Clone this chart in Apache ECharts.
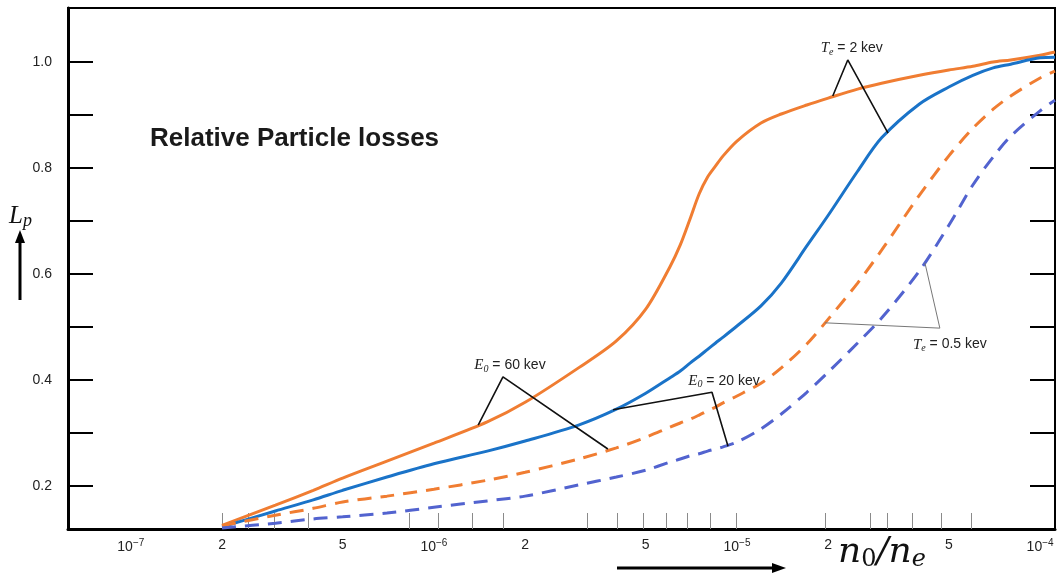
<!DOCTYPE html>
<html>
<head>
<meta charset="utf-8">
<script src="https://cdn.jsdelivr.net/npm/echarts@6/dist/echarts.min.js"></script>
<style>
  html, body { margin: 0; padding: 0; background: #fff; }
  #chart { width: 1057px; height: 582px; }
</style>
</head>
<body>
<div id="chart"></div>
<script>
// n0/ne sample points, shared by the four curves
var ratio = [2e-7, 3e-7, 4e-7, 5e-7, 7e-7, 1e-6, 1.5e-6, 2e-6, 3e-6, 4e-6, 5e-6, 6e-6, 6.5e-6, 7e-6, 7.5e-6, 8e-6,
             8.5e-6, 9e-6, 1e-5, 1.2e-5, 1.4e-5, 1.7e-5, 2e-5, 2.5e-5, 3e-5, 4e-5, 5e-5, 6e-5, 7e-5, 8e-5, 1e-4, 1.12e-4];

// Lp
var e60Te2 = [0.126, 0.164, 0.192, 0.215, 0.247, 0.281, 0.321, 0.358, 0.423, 0.474, 0.534, 0.613, 0.655, 0.704, 0.751, 0.783,
              0.804, 0.823, 0.851, 0.885, 0.902, 0.919, 0.932, 0.949, 0.960, 0.975, 0.985, 0.992, 1.000, 1.004, 1.013, 1.019];
var e20Te2 = [0.123, 0.153, 0.174, 0.192, 0.217, 0.242, 0.266, 0.285, 0.315, 0.345, 0.375, 0.404, 0.417, 0.432, 0.445, 0.458,
              0.470, 0.481, 0.502, 0.540, 0.583, 0.653, 0.711, 0.794, 0.857, 0.921, 0.953, 0.975, 0.989, 0.996, 1.008, 1.009];
var e60Te05 = [0.125, 0.145, 0.158, 0.170, 0.181, 0.194, 0.211, 0.226, 0.251, 0.272, 0.292, 0.311, 0.319, 0.326, 0.334, 0.342,
               0.349, 0.357, 0.370, 0.394, 0.423, 0.468, 0.515, 0.583, 0.645, 0.749, 0.823, 0.875, 0.911, 0.936, 0.970, 0.983];
var e20Te05 = [0.121, 0.130, 0.138, 0.142, 0.149, 0.160, 0.172, 0.181, 0.202, 0.217, 0.230, 0.245, 0.251, 0.257, 0.261, 0.266,
               0.270, 0.274, 0.283, 0.308, 0.336, 0.377, 0.415, 0.470, 0.517, 0.606, 0.692, 0.768, 0.821, 0.860, 0.908, 0.928];

// axis ticks / labels
var xLabelValues = [1e-7, 2e-7, 5e-7, 1e-6, 2e-6, 5e-6, 1e-5, 2e-5, 5e-5, 1e-4];
var xTickValues = [2e-7, 2.44e-7, 2.97e-7, 3.84e-7, 8.28e-7, 1.03e-6, 1.34e-6, 1.7e-6, 3.2e-6, 4.02e-6, 4.9e-6,
                   5.83e-6, 6.84e-6, 8.15e-6, 9.92e-6, 1.95e-5, 2.75e-5, 3.13e-5, 3.78e-5, 4.71e-5, 5.92e-5];
var yLabelValues = [0.2, 0.4, 0.6, 0.8, 1.0];
var yTickValues = [0.2, 0.3, 0.4, 0.5, 0.6, 0.7, 0.8, 0.9, 1.0];

// callouts: curve point, vertex, curve point
var calloutE60 = [[1.40e-6, 0.315], [1.69e-6, 0.406], [3.75e-6, 0.270]];
var calloutE20 = [[3.90e-6, 0.344], [8.27e-6, 0.377], [9.34e-6, 0.275]];
var calloutTe2 = [[2.07e-5, 0.936], [2.32e-5, 1.004], [3.15e-5, 0.866]];
var calloutTe05 = [[1.95e-5, 0.508], [4.67e-5, 0.498], [4.17e-5, 0.621]];

var ORANGE = '#F07D32';
var BLUE = '#1A73C8';
var PURPLE = '#5263CF';
var SERIF = "'Liberation Serif', 'DejaVu Serif', serif";
var MATH = "'DejaVu Serif', serif";
var SANS = "'Liberation Sans', Arial, sans-serif";

function pairs(ys) {
  return ratio.map(function (x, i) { return [x, ys[i]]; });
}

var calloutRich = {
  i: { fontFamily: SERIF, fontStyle: 'italic', fontSize: 15, color: '#222' },
  sb: { fontFamily: SERIF, fontStyle: 'italic', fontSize: 10, color: '#222', padding: [7, 0, 0, 0] },
  t: { fontFamily: SANS, fontSize: 14, color: '#222' }
};

function callout(pts, text, pos, offset, dist, color, width) {
  return {
    type: 'line',
    data: pts.map(function (p, i) {
      if (i !== 1) return p;
      return {
        value: p,
        label: { show: true, position: pos, offset: offset, distance: dist, formatter: text, rich: calloutRich }
      };
    }),
    symbol: 'circle',
    symbolSize: 0,
    showSymbol: true,
    lineStyle: { color: color, width: width },
    itemStyle: { color: color },
    silent: true,
    z: 5,
    animation: false
  };
}

function curve(ys, color, dashed) {
  return {
    type: 'line',
    data: pairs(ys),
    showSymbol: false,
    smooth: 0.3,
    lineStyle: { color: color, width: 3, type: dashed ? [14, 9] : 'solid' },
    itemStyle: { color: color },
    z: 3,
    animation: false
  };
}

function fmtX(v) {
  var e = Math.log10(v);
  var r = Math.round(e);
  if (Math.abs(e - r) < 1e-6) return '10{s|\u2212' + (-r) + '}';
  return String(Math.round(v / Math.pow(10, Math.floor(e + 1e-9))));
}

var chart = echarts.init(document.getElementById('chart'));
chart.setOption({
  backgroundColor: '#fff',
  title: {
    text: 'Relative Particle losses',
    left: 150, top: 126, padding: 0,
    textStyle: { fontFamily: SANS, fontSize: 26, fontWeight: 'bold', color: '#1a1a1a' }
  },
  grid: {
    left: 68, right: 2, top: 8, bottom: 53,
    outerBoundsMode: 'none',
    show: true, borderColor: '#000', borderWidth: 2, backgroundColor: '#fff'
  },
  xAxis: {
    type: 'log', logBase: 10,
    min: 6.206e-8, max: 1.12e-4,
    axisLine: { lineStyle: { color: '#000', width: 3 } },
    axisTick: { inside: true, length: 16, customValues: xTickValues, lineStyle: { color: '#8a8a8a', width: 1 } },
    axisLabel: {
      customValues: xLabelValues, formatter: fmtX, margin: 9,
      color: '#222', fontFamily: SANS, fontSize: 14,
      rich: { s: { fontFamily: SANS, fontSize: 10, color: '#222', padding: [0, 0, 9, 0] } }
    },
    splitLine: { show: false },
    minorTick: { show: false }
  },
  yAxis: [{
    type: 'value', min: 0.119, max: 1.102,
    axisLine: { show: true, lineStyle: { color: '#000', width: 3 } },
    axisTick: { inside: true, length: 25, customValues: yTickValues, lineStyle: { color: '#000', width: 2 } },
    axisLabel: {
      customValues: yLabelValues, margin: 16, color: '#222', fontFamily: SANS, fontSize: 14,
      formatter: function (v) { return v.toFixed(1); }
    },
    splitLine: { show: false }
  }, {
    type: 'value', min: 0.119, max: 1.102, position: 'right',
    axisLine: { show: true, lineStyle: { color: '#000', width: 2 } },
    axisTick: { inside: true, length: 25, customValues: yTickValues, lineStyle: { color: '#000', width: 2 } },
    axisLabel: { show: false },
    splitLine: { show: false }
  }],
  series: [
    curve(e60Te2, ORANGE, false),
    curve(e20Te2, BLUE, false),
    curve(e60Te05, ORANGE, true),
    curve(e20Te05, PURPLE, true),
    callout(calloutE60, '{i|E}{sb|0}{t| = 60 kev}', 'top', [7, 0], 3, '#111', 1.6),
    callout(calloutE20, '{i|E}{sb|0}{t| = 20 kev}', 'top', [12, 0], 3, '#111', 1.6),
    callout(calloutTe2, '{i|T}{sb|e}{t| = 2 kev}', 'top', [4, 0], 3, '#111', 1.6),
    callout(calloutTe05, '{i|T}{sb|e}{t| = 0.5 kev}', 'bottom', [10, 0], 8, '#777', 1)
  ],
  graphic: [
    {
      type: 'text', left: 9, top: 204,
      style: {
        text: '{a|L}{b|p}',
        rich: {
          a: { fontFamily: SERIF, fontStyle: 'italic', fontSize: 25, fill: '#111' },
          b: { fontFamily: SERIF, fontStyle: 'italic', fontSize: 18, fill: '#111', padding: [9, 0, 0, 0] }
        }
      }
    },
    { type: 'line', shape: { x1: 20, y1: 300, x2: 20, y2: 241 }, style: { stroke: '#000', lineWidth: 3 } },
    { type: 'polygon', shape: { points: [[20, 230], [15, 243], [25, 243]] }, style: { fill: '#000' } },
    { type: 'line', shape: { x1: 617, y1: 568, x2: 773, y2: 568 }, style: { stroke: '#000', lineWidth: 3 } },
    { type: 'polygon', shape: { points: [[786, 568], [772, 563], [772, 573]] }, style: { fill: '#000' } },
    {
      type: 'text', left: 838, top: 535,
      style: {
        text: '{a|n}{b|0}{a|/n}{c|e}',
        rich: {
          a: { fontFamily: MATH, fontStyle: 'italic', fontSize: 36, fill: '#111' },
          b: { fontFamily: MATH, fontSize: 24, fill: '#111', padding: [14, 0, 0, 0] },
          c: { fontFamily: MATH, fontStyle: 'italic', fontSize: 24, fill: '#111', padding: [14, 0, 0, 0] }
        }
      }
    }
  ]
});
</script>
</body>
</html>
